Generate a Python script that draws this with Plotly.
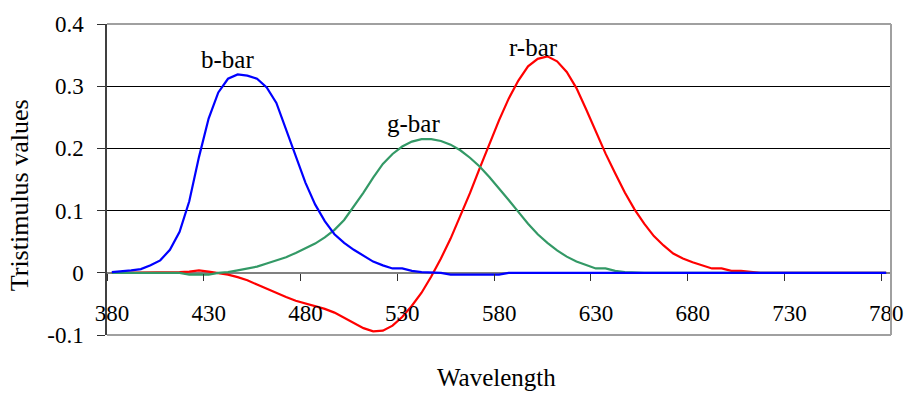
import plotly.graph_objects as go

# Wavelength categories (nm)
WAVELENGTH = [380, 385, 390, 395, 400, 405, 410, 415, 420, 425,
              430, 435, 440, 445, 450, 455, 460, 465, 470, 475,
              480, 485, 490, 495, 500, 505, 510, 515, 520, 525,
              530, 535, 540, 545, 550, 555, 560, 565, 570, 575,
              580, 585, 590, 595, 600, 605, 610, 615, 620, 625,
              630, 635, 640, 645, 650, 655, 660, 665, 670, 675,
              680, 685, 690, 695, 700, 705, 710, 715, 720, 725,
              730, 735, 740, 745, 750, 755, 760, 765, 770, 775,
              780]

R_BAR = [0.000, 0.000, 0.000, 0.000, 0.000, 0.000, 0.001, 0.001, 0.002, 0.004,
         0.002, 0.000, -0.003, -0.007, -0.012, -0.019, -0.026, -0.033, -0.039, -0.045,
         -0.049, -0.054, -0.058, -0.064, -0.072, -0.081, -0.089, -0.094, -0.093, -0.085,
         -0.071, -0.053, -0.032, -0.006, 0.023, 0.055, 0.091, 0.128, 0.168, 0.207,
         0.245, 0.280, 0.309, 0.332, 0.344, 0.348, 0.340, 0.323, 0.297, 0.263,
         0.227, 0.192, 0.160, 0.129, 0.102, 0.079, 0.059, 0.044, 0.031, 0.023,
         0.017, 0.012, 0.007, 0.007, 0.003, 0.003, 0.001, 0.000, 0.000, 0.000,
         0.000, 0.000, 0.000, 0.000, 0.000, 0.000, 0.000, 0.000, 0.000, 0.000,
         0.000]

G_BAR = [0.000, 0.000, 0.000, 0.000, 0.000, 0.000, 0.000, 0.000, -0.003, -0.003,
         -0.003, 0.000, 0.001, 0.004, 0.007, 0.010, 0.015, 0.020, 0.025, 0.032,
         0.039, 0.047, 0.057, 0.069, 0.085, 0.106, 0.129, 0.153, 0.175, 0.191,
         0.203, 0.211, 0.215, 0.215, 0.212, 0.206, 0.197, 0.185, 0.171, 0.154,
         0.136, 0.117, 0.098, 0.079, 0.062, 0.048, 0.036, 0.026, 0.018, 0.013,
         0.007, 0.007, 0.003, 0.001, 0.000, 0.000, 0.000, 0.000, 0.000, 0.000,
         0.000, 0.000, 0.000, 0.000, 0.000, 0.000, 0.000, 0.000, 0.000, 0.000,
         0.000, 0.000, 0.000, 0.000, 0.000, 0.000, 0.000, 0.000, 0.000, 0.000,
         0.000]

B_BAR = [0.001, 0.002, 0.004, 0.006, 0.012, 0.020, 0.037, 0.066, 0.115, 0.186,
         0.248, 0.290, 0.312, 0.319, 0.317, 0.312, 0.298, 0.273, 0.230, 0.186,
         0.145, 0.110, 0.083, 0.062, 0.048, 0.037, 0.027, 0.018, 0.012, 0.007,
         0.007, 0.003, 0.001, 0.000, 0.000, -0.003, -0.003, -0.003, -0.003, -0.003,
         -0.003, 0.000, 0.000, 0.000, 0.000, 0.000, 0.000, 0.000, 0.000, 0.000,
         0.000, 0.000, 0.000, 0.000, 0.000, 0.000, 0.000, 0.000, 0.000, 0.000,
         0.000, 0.000, 0.000, 0.000, 0.000, 0.000, 0.000, 0.000, 0.000, 0.000,
         0.000, 0.000, 0.000, 0.000, 0.000, 0.000, 0.000, 0.000, 0.000, 0.000,
         0.000]

X_TICK_LABELS = ["380", "430", "480", "530", "580", "630", "680", "730", "780"]
Y_TICK_VALUES = [-0.1, 0.0, 0.1, 0.2, 0.3, 0.4]
Y_TICK_LABELS = ["-0.1", "0", "0.1", "0.2", "0.3", "0.4"]

SERIES_LABELS = [("b-bar", 440, 0.343), ("g-bar", 536, 0.240), ("r-bar", 598, 0.362)]

FONT = "Liberation Serif"
HALF_CAT = 2.5  # category axis: tick marks sit between categories

fig = go.Figure()
fig.add_trace(go.Scatter(x=WAVELENGTH, y=R_BAR, mode="lines", name="r-bar",
                         line=dict(color="#FF0000", width=2.2)))
fig.add_trace(go.Scatter(x=WAVELENGTH, y=G_BAR, mode="lines", name="g-bar",
                         line=dict(color="#339966", width=2.2)))
fig.add_trace(go.Scatter(x=WAVELENGTH, y=B_BAR, mode="lines", name="b-bar",
                         line=dict(color="#0000FF", width=2.2)))

for text, xv, yv in SERIES_LABELS:
    fig.add_annotation(x=xv, y=yv, xref="x", yref="y", text=text, showarrow=False,
                       font=dict(family=FONT, size=25, color="black"),
                       xanchor="center", yanchor="middle")

fig.add_annotation(x=0.497, y=-0.138, xref="paper", yref="paper", text="Wavelength",
                   showarrow=False, font=dict(family=FONT, size=25, color="black"),
                   xanchor="center", yanchor="middle")
fig.add_annotation(x=-0.112, y=0.45, xref="paper", yref="paper", text="Tristimulus values",
                   showarrow=False, textangle=-90,
                   font=dict(family=FONT, size=26, color="black"),
                   xanchor="center", yanchor="middle")

# plot-area frame (top, right, bottom)
for x0, y0, x1, y1 in [(0, 1, 1, 1), (1, 0, 1, 1), (0, 0, 1, 0)]:
    fig.add_shape(type="line", xref="paper", yref="paper", x0=x0, y0=y0, x1=x1, y1=y1,
                  line=dict(color="#A0A0A0", width=2), layer="above")

y_min, y_max = Y_TICK_VALUES[0], Y_TICK_VALUES[-1]
zero_pos = (0 - y_min) / (y_max - y_min)

fig.update_layout(
    width=916, height=396,
    margin=dict(l=107, r=20, t=17, b=61),
    paper_bgcolor="white", plot_bgcolor="white",
    showlegend=False,
    font=dict(family=FONT, color="black"),
    xaxis=dict(
        range=[WAVELENGTH[0] - HALF_CAT, WAVELENGTH[-1] + HALF_CAT],
        tickvals=[float(t) - HALF_CAT for t in X_TICK_LABELS],
        ticktext=X_TICK_LABELS,
        ticks="outside", ticklen=7, tickwidth=1, tickcolor="#303030",
        ticklabelshift=5, ticklabelstandoff=13,
        showgrid=False, zeroline=False, showline=False,
        anchor="free", position=zero_pos,
        tickfont=dict(family=FONT, size=23, color="black"),
    ),
    yaxis=dict(
        range=[y_min, y_max],
        tickvals=Y_TICK_VALUES, ticktext=Y_TICK_LABELS,
        ticks="outside", ticklen=8, tickwidth=1, tickcolor="#303030",
        showline=True, linecolor="#404040", linewidth=1.5,
        showgrid=True, gridcolor="black", gridwidth=1,
        zeroline=True, zerolinecolor="#808080", zerolinewidth=1.5,
        ticklabelstandoff=9,
        tickfont=dict(family=FONT, size=23, color="black"),
    ),
)

fig.write_html("out.html")
